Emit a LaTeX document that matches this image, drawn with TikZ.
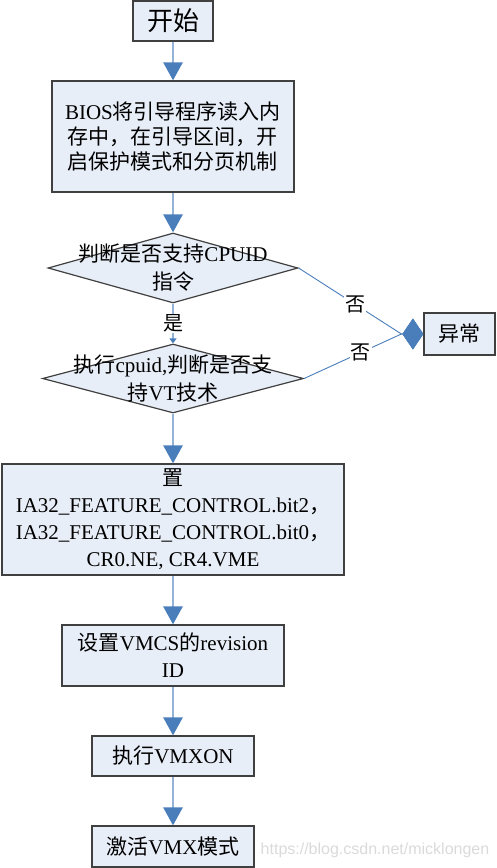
\documentclass[tikz,border=0pt]{standalone}
\usepackage{fontspec}
\setmainfont{Liberation Serif}
\newfontfamily\cjk{Noto Sans CJK SC}
\newfontfamily\wmfont{Liberation Sans}
\usetikzlibrary{arrows.meta,shapes.geometric,calc}
\definecolor{boxfill}{HTML}{E8EEF7}
\definecolor{boxdraw}{HTML}{404040}
\definecolor{lineblue}{HTML}{95B3D7}
\definecolor{tipblue}{HTML}{4A7EBB}
\definecolor{wmgray}{HTML}{DADADA}
\newcommand\zh[1]{{\cjk #1}}
\begin{document}
\begin{tikzpicture}[x=1pt,y=-1pt,
  box/.style={draw=boxdraw, line width=1.2pt, fill=boxfill, inner sep=0pt, align=center,
    font=\fontsize{21}{26}\selectfont},
  dia/.style={diamond, draw=boxdraw, line width=1.2pt, fill=boxfill, inner sep=0pt},
  dtext/.style={align=center, inner sep=0pt, font=\fontsize{21}{28}\selectfont},
  flow/.style={draw=lineblue, line width=2.6pt, -{Triangle[length=18pt,width=19pt,color=tipblue]}},
  smallflow/.style={draw=lineblue, line width=2pt, -{Triangle[length=5pt,width=7pt,color=tipblue]}},
  errline/.style={draw=tipblue, line width=0.9pt, -{Diamond[length=21pt,width=31pt,color=tipblue]}},
  lab/.style={fill=white, inner sep=1pt, font=\fontsize{20}{22}\selectfont}
]
\useasboundingbox (0,0) rectangle (497,868);

\node[box, minimum width=80pt, minimum height=40pt, font=\fontsize{26}{30}\selectfont] (start) at (173,21) {\zh{开始}};
\node[box, minimum width=242pt, minimum height=111pt, font=\fontsize{21}{25}\selectfont] (bios) at (173,136.5)
  {BIOS\zh{将引导程序读入内}\\\zh{存中，在引导区间，开}\\\zh{启保护模式和分页机制}};
\node[dia, minimum width=250pt, minimum height=70pt,
  label={[dtext]center:\zh{判断是否支持}CPUID\\\zh{指令}}] (d1) at (173,268) {};
\node[dia, minimum width=261pt, minimum height=69pt,
  label={[dtext]center:\zh{执行}cpuid,\zh{判断是否支}\\\zh{持}VT\zh{技术}}] (d2) at (173,378.5) {};
\node[box, minimum width=71pt, minimum height=42pt] (err) at (459.5,334) {\zh{异常}};
\node[box, minimum width=342pt, minimum height=111pt, font=\fontsize{21}{27}\selectfont] (set) at (173,519.5)
  {\zh{置}\\IA32\_FEATURE\_CONTROL.bit2\zh{，}\\IA32\_FEATURE\_CONTROL.bit0\zh{，}\\CR0.NE, CR4.VME};
\node[box, minimum width=222pt, minimum height=61pt, font=\fontsize{21}{27}\selectfont] (rev) at (173,655.5)
  {\zh{设置}VMCS\zh{的}revision\\ID};
\node[box, minimum width=162pt, minimum height=40pt] (vmxon) at (173,756) {\zh{执行}VMXON};
\node[box, minimum width=162pt, minimum height=41pt] (act) at (173,846.5) {\zh{激活}VMX\zh{模式}};

\node[text=wmgray, inner sep=0pt, font=\wmfont\fontsize{16}{18}\selectfont] (wm) at (375,850) {https://blog.csdn.net/micklongen};

\draw[flow] (start.south) -- (bios.north);
\draw[flow] (bios.south) -- (d1.north);
\draw[smallflow] (d1.south) -- node[lab] {\zh{是}} (d2.north);
\draw[flow] (d2.south) -- (set.north);
\draw[flow] (set.south) -- (rev.north);
\draw[flow] (rev.south) -- (vmxon.north);
\draw[flow] (vmxon.south) -- (act.north);

\draw[errline] (d1.east) -- node[lab, pos=0.55] {\zh{否}} ($(err.west)+(-22,0)$) -- (err.west);
\draw[errline] (d2.east) -- node[lab, pos=0.58] {\zh{否}} ($(err.west)+(-22,0)$) -- (err.west);
\end{tikzpicture}
\end{document}
